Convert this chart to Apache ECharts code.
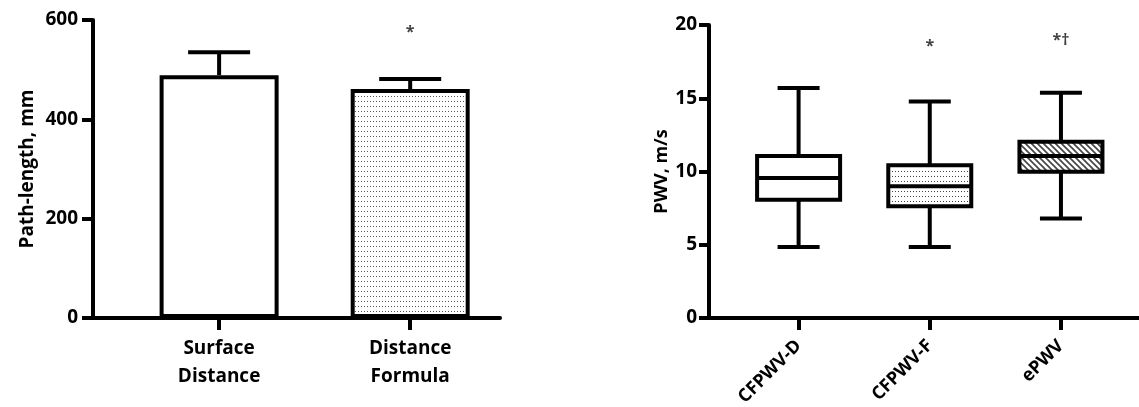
<!DOCTYPE html>
<html><head><meta charset="utf-8">
<script src="https://cdn.jsdelivr.net/npm/echarts@6/dist/echarts.min.js"></script>
<style>html,body{margin:0;padding:0;background:#fff}#c{width:1139px;height:407px}</style>
</head><body><div id="c"></div>
<script>
// ---- Left panel data ----
const barCategories = ['Surface\nDistance', 'Distance\nFormula'];
const barPositions = [1, 2];
const barMeans = [489, 461];
const barUpper = [535, 481];
const barNote = ['', '*'];
const barNoteY = [0, 575];
const leftYTicks = [0, 200, 400, 600];

// ---- Right panel data ----
const boxCategories = ['CFPWV-D', 'CFPWV-F', 'ePWV'];
const boxPositions = [1, 2, 3];
const boxMin = [4.84, 4.84, 6.8];
const boxQ1 = [8.08, 7.63, 9.98];
const boxMedian = [9.55, 9.0, 11.05];
const boxQ3 = [11.05, 10.43, 12.03];
const boxMax = [15.7, 14.77, 15.37];
const boxNote = ['', '*', '*†'];
const boxNoteY = [0, 18.52, 18.98];
const rightYTicks = [0, 5, 10, 15, 20];

function dotPattern(w, h, color) {
  const c = document.createElement('canvas');
  c.width = w; c.height = h;
  const g = c.getContext('2d');
  g.fillStyle = '#fff'; g.fillRect(0, 0, w, h);
  g.fillStyle = color; g.fillRect(1, 1, 1, 1);
  return c;
}
function hatchPattern(s) {
  const c = document.createElement('canvas');
  c.width = s; c.height = s;
  const g = c.getContext('2d');
  g.fillStyle = '#fff'; g.fillRect(0, 0, s, s);
  g.strokeStyle = '#444'; g.lineWidth = 1.6;
  g.beginPath();
  g.moveTo(-1, -1); g.lineTo(s + 1, s + 1);
  g.moveTo(-1, s - 1); g.lineTo(1, s + 1);
  g.moveTo(s - 1, -1); g.lineTo(s + 1, 1);
  g.stroke();
  return c;
}
const barDots = { image: dotPattern(3, 5, '#555'), repeat: 'repeat' };
const boxDots = { image: dotPattern(3, 5, '#444'), repeat: 'repeat' };
const boxHatch = { image: hatchPattern(6), repeat: 'repeat' };
const boxFills = ['#fff', boxDots, boxHatch];
const barFills = ['#fff', barDots];

const FONT = 'Open Sans';
const axisLineStyle = { color: '#000', width: 4 };

const chart = echarts.init(document.getElementById('c'), null, { renderer: 'canvas' });
chart.setOption({
  animation: false,
  backgroundColor: '#fff',
  grid: [
    { left: 93, right: 639, top: 20, bottom: 89, outerBoundsMode: 'none', containLabel: false },
    { left: 709, right: 0, top: 25, bottom: 89, outerBoundsMode: 'none', containLabel: false }
  ],
  xAxis: [
    {
      gridIndex: 0, type: 'value', min: 0.34, max: 2.47,
      splitLine: { show: false },
      axisLine: { lineStyle: axisLineStyle },
      axisTick: { show: true, length: 12, lineStyle: { width: 4, color: '#000' }, customValues: barPositions },
      axisLabel: {
        customValues: barPositions,
        formatter: v => barCategories[barPositions.indexOf(v)] || '',
        fontFamily: FONT, fontWeight: 'bold', fontSize: 19, color: '#000',
        lineHeight: 28, margin: 17
      }
    },
    {
      gridIndex: 1, type: 'value', min: 0.317, max: 3.595,
      splitLine: { show: false },
      axisLine: { lineStyle: axisLineStyle },
      axisTick: { show: true, length: 12, lineStyle: { width: 4, color: '#000' }, customValues: boxPositions },
      axisLabel: {
        customValues: boxPositions,
        formatter: v => boxCategories[boxPositions.indexOf(v)] || '',
        rotate: 45,
        fontFamily: FONT, fontWeight: 'bold', fontSize: 18, color: '#000',
        margin: 25
      }
    }
  ],
  yAxis: [
    {
      gridIndex: 0, type: 'value', min: 0, max: 600, interval: 200,
      name: 'Path-length, mm', nameLocation: 'middle', nameGap: 56, nameRotate: 90,
      nameTextStyle: { fontFamily: FONT, fontWeight: 'bold', fontSize: 19, color: '#000' },
      splitLine: { show: false },
      axisLine: { show: true, lineStyle: axisLineStyle },
      axisTick: { show: true, length: 11, lineStyle: { width: 4, color: '#000' } },
      axisLabel: { fontFamily: FONT, fontWeight: 'bold', fontSize: 19, color: '#000', margin: 15 }
    },
    {
      gridIndex: 1, type: 'value', min: 0, max: 20, interval: 5,
      name: 'PWV, m/s', nameLocation: 'middle', nameGap: 38, nameRotate: 90,
      nameTextStyle: { fontFamily: FONT, fontWeight: 'bold', fontSize: 18, color: '#000' },
      splitLine: { show: false },
      axisLine: { show: true, lineStyle: axisLineStyle },
      axisTick: { show: true, length: 10, lineStyle: { width: 4, color: '#000' } },
      axisLabel: { fontFamily: FONT, fontWeight: 'bold', fontSize: 19, color: '#000', margin: 12 }
    }
  ],
  series: [
    {
      type: 'bar', xAxisIndex: 0, yAxisIndex: 0, barWidth: 119,
      data: barPositions.map((p, i) => ({
        value: [p, barMeans[i]],
        itemStyle: { color: barFills[i], borderColor: '#000', borderWidth: 4 }
      })),
      z: 2
    },
    {
      type: 'custom', xAxisIndex: 0, yAxisIndex: 0,
      data: barPositions.map((p, i) => [p, barMeans[i], barUpper[i]]),
      renderItem: (params, api) => {
        const a = api.coord([api.value(0), api.value(1)]);
        const b = api.coord([api.value(0), api.value(2)]);
        const cap = 62;
        const st = { stroke: '#000', lineWidth: 4 };
        return { type: 'group', children: [
          { type: 'line', shape: { x1: a[0], y1: a[1], x2: b[0], y2: b[1] }, style: st },
          { type: 'line', shape: { x1: b[0] - cap / 2, y1: b[1], x2: b[0] + cap / 2, y2: b[1] }, style: st }
        ]};
      },
      z: 3
    },
    {
      type: 'scatter', xAxisIndex: 0, yAxisIndex: 0, symbolSize: 0,
      data: barPositions.map((p, i) => ({ value: [p, barNoteY[i]], label: { formatter: barNote[i] } })).filter((d, i) => barNote[i]),
      label: { show: true, position: 'inside', fontFamily: FONT, fontWeight: 'bold', fontSize: 16, color: '#111' }
    },
    {
      type: 'custom', xAxisIndex: 1, yAxisIndex: 1,
      data: boxPositions.map((p, i) => [p, boxMin[i], boxQ1[i], boxMedian[i], boxQ3[i], boxMax[i], i]),
      renderItem: (params, api) => {
        const x = api.value(0);
        const idx = api.value(6);
        const pMin = api.coord([x, api.value(1)]);
        const pQ1 = api.coord([x, api.value(2)]);
        const pMed = api.coord([x, api.value(3)]);
        const pQ3 = api.coord([x, api.value(4)]);
        const pMax = api.coord([x, api.value(5)]);
        const boxW = 83, capW = 42, cx = pMin[0];
        const st = { stroke: '#000', lineWidth: 4 };
        return { type: 'group', children: [
          { type: 'line', shape: { x1: cx, y1: pMin[1], x2: cx, y2: pQ1[1] }, style: st },
          { type: 'line', shape: { x1: cx, y1: pQ3[1], x2: cx, y2: pMax[1] }, style: st },
          { type: 'line', shape: { x1: cx - capW / 2, y1: pMin[1], x2: cx + capW / 2, y2: pMin[1] }, style: st },
          { type: 'line', shape: { x1: cx - capW / 2, y1: pMax[1], x2: cx + capW / 2, y2: pMax[1] }, style: st },
          { type: 'rect', shape: { x: cx - boxW / 2, y: pQ3[1], width: boxW, height: pQ1[1] - pQ3[1] },
            style: { fill: boxFills[idx], stroke: '#000', lineWidth: 4 } },
          { type: 'line', shape: { x1: cx - boxW / 2, y1: pMed[1], x2: cx + boxW / 2, y2: pMed[1] },
            style: { stroke: '#000', lineWidth: 4 } }
        ]};
      }
    },
    {
      type: 'scatter', xAxisIndex: 1, yAxisIndex: 1, symbolSize: 0,
      data: boxPositions.map((p, i) => ({ value: [p, boxNoteY[i]], label: { formatter: boxNote[i] } })).filter((d, i) => boxNote[i]),
      label: { show: true, position: 'inside', fontFamily: FONT, fontWeight: 'bold', fontSize: 16, color: '#111' }
    }
  ]
});
</script>
</body></html>
